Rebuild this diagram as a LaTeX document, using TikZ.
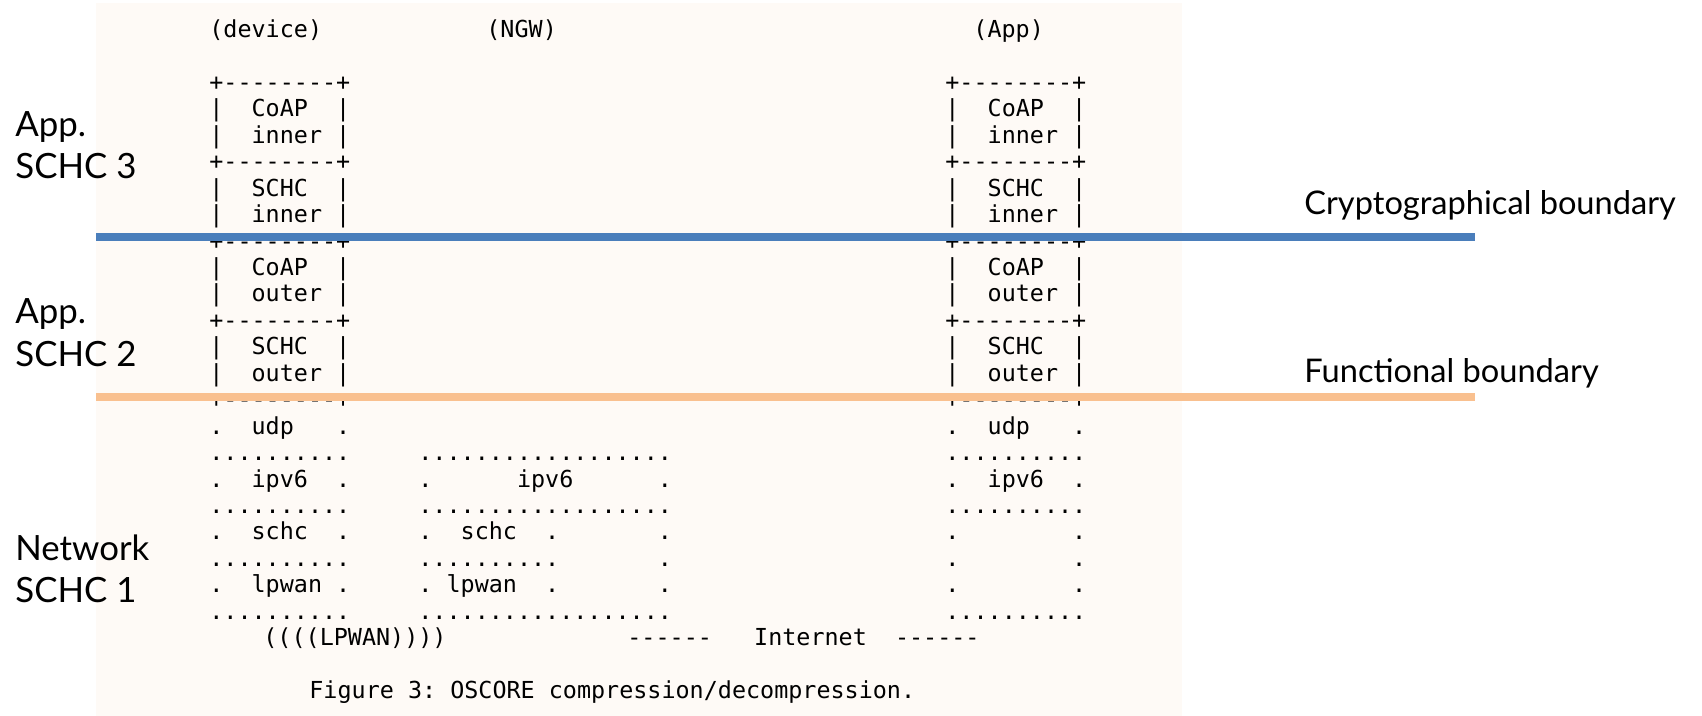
\documentclass[tikz,border=0pt]{standalone}
\usepackage{fontspec}
\setmainfont{Lato}
\setmonofont{DejaVu Sans Mono}

\definecolor{panelbg}{HTML}{FEFAF6}
\definecolor{cryptoblue}{HTML}{4A7EBB}
\definecolor{funcorange}{HTML}{F9C08F}

\newcommand{\rowy}[1]{37.7+26.43*#1}

\tikzset{
  mono/.style={anchor=base west, inner sep=0pt, font=\ttfamily\fontsize{11.7}{13}\selectfont\frenchspacing},
  layer/.style={anchor=base west, inner sep=0pt, font=\fontsize{17.4}{21}\selectfont},
  bound/.style={anchor=base west, inner sep=0pt, font=\fontsize{16.3}{19}\selectfont},
  boundary/.style={line width=3.85pt},
}

\begin{document}
\begin{tikzpicture}[x=0.5pt,y=-0.5pt]
    \useasboundingbox (0,0) rectangle (1702,716);
    % Panel
    \fill[panelbg] (96,3) rectangle (1182,716);

    % Headers
    \node[mono] (device) at (209,{\rowy{0}}) {(device)};
    \node[mono] (ngw) at (486,{\rowy{0}}) {(NGW)};
    \node[mono] (app) at (973,{\rowy{0}}) {(App)};

    % Upper stacks, same on both ends
    \foreach \txt [count=\r from 2] in {+--------+, |~~CoAP~~|, |~~inner~|, +--------+, |~~SCHC~~|, |~~inner~|, +--------+, |~~CoAP~~|, |~~outer~|, +--------+, |~~SCHC~~|, |~~outer~|, +--------+}
    {
        \node[mono] (dev\r) at (209,{\rowy{\r}}) {\txt};
        \node[mono] (app\r) at (945,{\rowy{\r}}) {\txt};
    }

    % Lower stack, device
    \node[mono] (dev15) at (209,{\rowy{15}}) {.~~udp~~~.};
    \node[mono] (dev16) at (209,{\rowy{16}}) {..........};
    \node[mono] (dev17) at (209,{\rowy{17}}) {.~~ipv6~~.};
    \node[mono] (dev18) at (209,{\rowy{18}}) {..........};
    \node[mono] (dev19) at (209,{\rowy{19}}) {.~~schc~~.};
    \node[mono] (dev20) at (209,{\rowy{20}}) {..........};
    \node[mono] (dev21) at (209,{\rowy{21}}) {.~~lpwan~.};
    \node[mono] (dev22) at (209,{\rowy{22}}) {..........};

    % Lower stack, NGW
    \node[mono] (ngw16) at (418,{\rowy{16}}) {..................};
    \node[mono] (ngw17) at (418,{\rowy{17}}) {.~~~~~~ipv6~~~~~~.};
    \node[mono] (ngw18) at (418,{\rowy{18}}) {..................};
    \node[mono] (ngw19) at (418,{\rowy{19}}) {.~~schc~~.~~~~~~~.};
    \node[mono] (ngw20) at (418,{\rowy{20}}) {..........~~~~~~~.};
    \node[mono] (ngw21) at (418,{\rowy{21}}) {.~lpwan~~.~~~~~~~.};
    \node[mono] (ngw22) at (418,{\rowy{22}}) {..................};

    % Lower stack, App
    \node[mono] (app15) at (945,{\rowy{15}}) {.~~udp~~~.};
    \node[mono] (app16) at (945,{\rowy{16}}) {..........};
    \node[mono] (app17) at (945,{\rowy{17}}) {.~~ipv6~~.};
    \node[mono] (app18) at (945,{\rowy{18}}) {..........};
    \node[mono] (app19) at (945,{\rowy{19}}) {.~~~~~~~~.};
    \node[mono] (app20) at (945,{\rowy{20}}) {.~~~~~~~~.};
    \node[mono] (app21) at (945,{\rowy{21}}) {.~~~~~~~~.};
    \node[mono] (app22) at (945,{\rowy{22}}) {..........};

    % Links and caption
    \node[mono] (lpwan) at (263,{\rowy{23}}) {((((LPWAN))))};
    \node[mono] (internet) at (627,{\rowy{23}}) {------~~~Internet~~------};
    \node[mono] (caption) at (309,{\rowy{25}}) {Figure 3: OSCORE compression/decompression.};

    % Boundaries
    \draw[boundary, cryptoblue] (96,237) -- (1475,237);
    \draw[boundary, funcorange] (96,397) -- (1475,397);
    \node[bound] (crypto) at (1304,215) {Cryptographical boundary};
    \node[bound] (func) at (1304,383) {Functional boundary};

    % Layers
    \node[layer] (app3) at (15,137) {App.};
    \node[layer] (schc3) at (15,179) {SCHC 3};
    \node[layer] (app2) at (15,324) {App.};
    \node[layer] (schc2) at (15,367) {SCHC 2};
    \node[layer] (network) at (15,560) {Network};
    \node[layer] (schc1) at (15,602) {SCHC 1};
\end{tikzpicture}
\end{document}
